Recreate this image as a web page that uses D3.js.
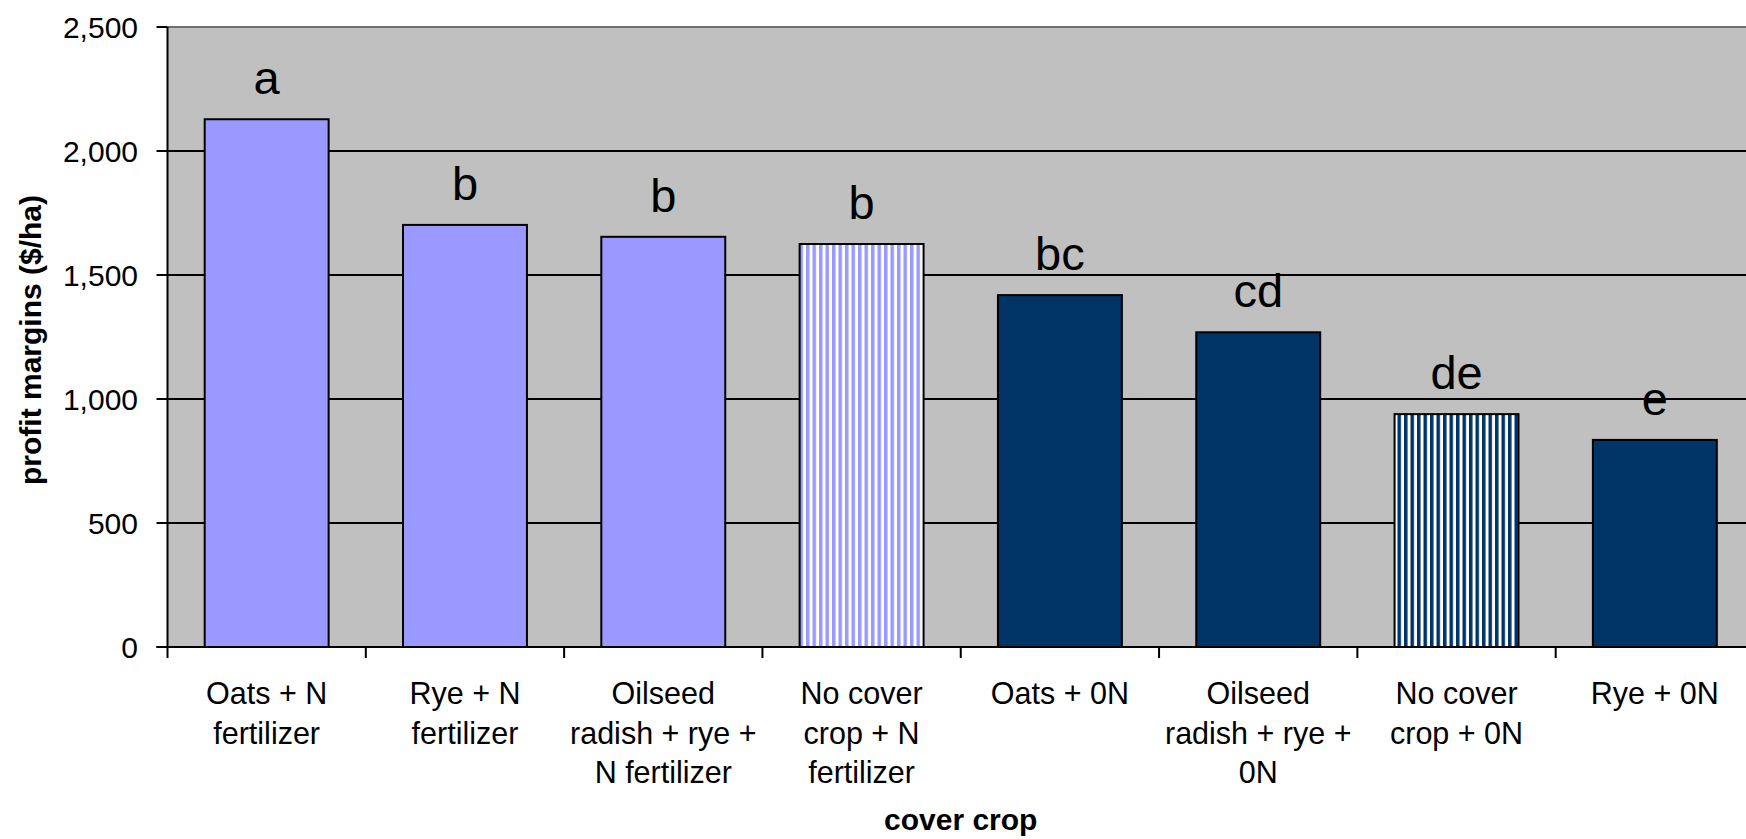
<!DOCTYPE html>
<html>
<head>
<meta charset="utf-8">
<script src="https://cdn.jsdelivr.net/npm/d3@7"></script>
<style>
  html, body { margin: 0; padding: 0; background: #fff; overflow: hidden; }
  svg { display: block; font-family: "Liberation Sans", Arial, sans-serif; }
</style>
</head>
<body>
<svg id="chart" width="1746" height="839"></svg>
<script>
// Treatments, in plotted order
const categories = [
  "Oats + N fertilizer",
  "Rye + N fertilizer",
  "Oilseed radish + rye + N fertilizer",
  "No cover crop + N fertilizer",
  "Oats + 0N",
  "Oilseed radish + rye + 0N",
  "No cover crop + 0N",
  "Rye + 0N"
];
// Axis label lines for each treatment
const categoryLines = [
  ["Oats + N", "fertilizer"],
  ["Rye + N", "fertilizer"],
  ["Oilseed", "radish + rye +", "N fertilizer"],
  ["No cover", "crop + N", "fertilizer"],
  ["Oats + 0N"],
  ["Oilseed", "radish + rye +", "0N"],
  ["No cover", "crop + 0N"],
  ["Rye + 0N"]
];
// Profit margins ($/ha)
const profit = [2128, 1702, 1654, 1625, 1419, 1269, 939, 835];
// Mean separation letters
const letters = ["a", "b", "b", "b", "bc", "cd", "de", "e"];
// Nitrogen treatment and whether a cover crop was grown
const nitrogen = ["N", "N", "N", "N", "0N", "0N", "0N", "0N"];
const coverCrop = [true, true, true, false, true, true, false, true];
// Value axis ticks
const yTicks = [0, 500, 1000, 1500, 2000, 2500];

const svg = d3.select("#chart");
const plot = { left: 167.5, right: 1754, top: 27, bottom: 647 };

const x = d3.scaleBand()
  .domain(categories)
  .range([plot.left, plot.right])
  .paddingInner(0.375)
  .paddingOuter(0.1875);

const y = d3.scaleLinear().domain([0, 2500]).range([plot.bottom, plot.top]);

const fillFor = { "N": "#9999FF", "0N": "#003366" };

// Vertical stripe patterns for the no-cover-crop bars
const defs = svg.append("defs");
Object.entries(fillFor).forEach(([key, col]) => {
  const p = defs.append("pattern")
    .attr("id", "stripe-" + key)
    .attr("patternUnits", "userSpaceOnUse")
    .attr("width", 6.5).attr("height", 10);
  p.append("rect").attr("width", 6.5).attr("height", 10).attr("fill", "#fff");
  p.append("rect").attr("width", 3.5).attr("height", 10).attr("fill", col);
});

// Plot area background
svg.append("rect")
  .attr("x", plot.left).attr("y", plot.top)
  .attr("width", plot.right - plot.left).attr("height", plot.bottom - plot.top)
  .attr("fill", "#C0C0C0");

// Top border of the plot area
svg.append("line")
  .attr("x1", plot.left).attr("x2", plot.right)
  .attr("y1", plot.top).attr("y2", plot.top)
  .attr("stroke", "#707070").attr("stroke-width", 2);

// Gridlines
svg.append("g")
  .selectAll("line")
  .data(yTicks.filter(t => t > 0 && t < 2500))
  .join("line")
  .attr("x1", plot.left).attr("x2", plot.right)
  .attr("y1", d => y(d)).attr("y2", d => y(d))
  .attr("stroke", "#000").attr("stroke-width", 2);

// Bars
svg.append("g")
  .selectAll("rect")
  .data(categories)
  .join("rect")
  .attr("x", d => x(d))
  .attr("width", x.bandwidth())
  .attr("y", (d, i) => y(profit[i]))
  .attr("height", (d, i) => y(0) - y(profit[i]))
  .attr("fill", (d, i) => coverCrop[i] ? fillFor[nitrogen[i]] : `url(#stripe-${nitrogen[i]})`)
  .attr("stroke", "#000").attr("stroke-width", 2);

// Letters above bars
svg.append("g")
  .selectAll("text")
  .data(categories)
  .join("text")
  .attr("x", d => x(d) + x.bandwidth() / 2)
  .attr("y", (d, i) => y(profit[i]) - 25)
  .attr("text-anchor", "middle")
  .attr("font-size", 47)
  .attr("fill", "#000")
  .text((d, i) => letters[i]);

// Y axis
const yAxis = svg.append("g");
yAxis.append("line")
  .attr("x1", plot.left).attr("x2", plot.left)
  .attr("y1", plot.top).attr("y2", plot.bottom + 11)
  .attr("stroke", "#000").attr("stroke-width", 2);
yAxis.selectAll("line.tick")
  .data(yTicks)
  .join("line")
  .attr("class", "tick")
  .attr("x1", plot.left - 11).attr("x2", plot.left)
  .attr("y1", d => y(d)).attr("y2", d => y(d))
  .attr("stroke", "#000").attr("stroke-width", 2);
yAxis.selectAll("text")
  .data(yTicks)
  .join("text")
  .attr("x", 138)
  .attr("y", d => y(d) + 11)
  .attr("text-anchor", "end")
  .attr("font-size", 30)
  .attr("fill", "#000")
  .text(d => d3.format(",")(d));

// X axis
const xAxis = svg.append("g");
xAxis.append("line")
  .attr("x1", plot.left - 11).attr("x2", plot.right)
  .attr("y1", plot.bottom).attr("y2", plot.bottom)
  .attr("stroke", "#000").attr("stroke-width", 2);
const step = x.step();
xAxis.selectAll("line.tick")
  .data(categories.slice(1))
  .join("line")
  .attr("class", "tick")
  .attr("x1", d => x(d) - step * x.paddingInner() / 2)
  .attr("x2", d => x(d) - step * x.paddingInner() / 2)
  .attr("y1", plot.bottom).attr("y2", plot.bottom + 11)
  .attr("stroke", "#000").attr("stroke-width", 2);

const labels = xAxis.selectAll("text.cat")
  .data(categories)
  .join("text")
  .attr("class", "cat")
  .attr("text-anchor", "middle")
  .attr("font-size", 30.5)
  .attr("fill", "#000");
labels.each(function (d, i) {
  const cx = x(d) + x.bandwidth() / 2;
  d3.select(this).selectAll("tspan")
    .data(categoryLines[i])
    .join("tspan")
    .attr("x", cx)
    .attr("y", (t, j) => 704 + j * 39.5)
    .text(t => t);
});

// Axis titles
svg.append("text")
  .attr("x", (plot.left + plot.right) / 2)
  .attr("y", 830)
  .attr("text-anchor", "middle")
  .attr("font-size", 30)
  .attr("font-weight", "bold")
  .attr("fill", "#000")
  .text("cover crop");

svg.append("text")
  .attr("transform", `translate(41, ${(plot.top + plot.bottom) / 2 + 3}) rotate(-90)`)
  .attr("text-anchor", "middle")
  .attr("font-size", 30)
  .attr("font-weight", "bold")
  .attr("fill", "#000")
  .text("profit margins ($/ha)");
</script>
</body>
</html>
